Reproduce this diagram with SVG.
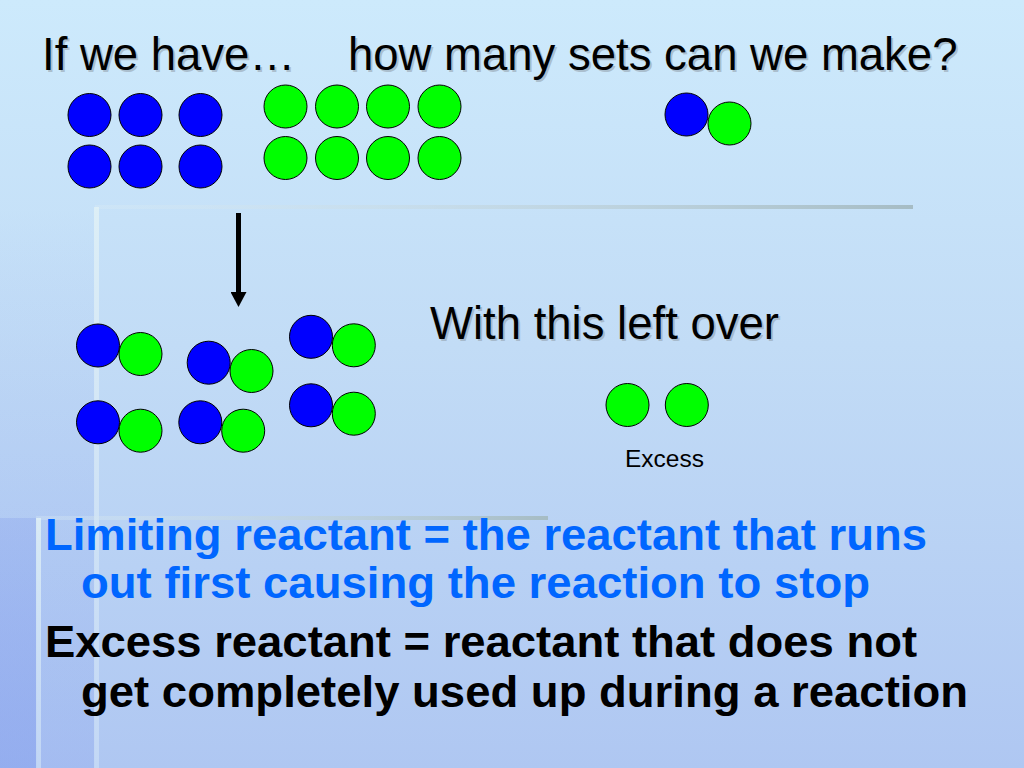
<svg xmlns="http://www.w3.org/2000/svg" width="1024" height="768" viewBox="0 0 1024 768">
<defs>
<linearGradient id="bg" x1="0" y1="0" x2="0" y2="1">
<stop offset="0" stop-color="#cdeafc"/>
<stop offset="0.45" stop-color="#c2dcf6"/>
<stop offset="1" stop-color="#afc7f2"/>
</linearGradient>
<linearGradient id="leftband" x1="0" y1="0" x2="0" y2="1">
<stop offset="0" stop-color="#8fa8ee" stop-opacity="0"/>
<stop offset="1" stop-color="#8fa8ee" stop-opacity="0.35"/>
</linearGradient>
<linearGradient id="leftedge" x1="0" y1="0" x2="0" y2="1">
<stop offset="0" stop-color="#8aa4ee" stop-opacity="0.35"/>
<stop offset="1" stop-color="#8aa4ee" stop-opacity="0.6"/>
</linearGradient>
<linearGradient id="hline" x1="0" y1="0" x2="1" y2="0">
<stop offset="0" stop-color="#dcecf4" stop-opacity="0.3"/>
<stop offset="1" stop-color="#a6bcc4"/>
</linearGradient>
<linearGradient id="vline" x1="0" y1="0" x2="0" y2="1">
<stop offset="0" stop-color="#e2f2f6"/>
<stop offset="1" stop-color="#c8dcf6"/>
</linearGradient>
<marker id="ah" viewBox="0 0 16 16" markerWidth="16" markerHeight="16" markerUnits="userSpaceOnUse" refX="0" refY="8" orient="auto">
<path d="M0,0 L15,8 L0,16 z" fill="#000"/>
</marker>
</defs>
<style>
.b{fill:#0000ff;stroke:#000;stroke-width:1}
.g{fill:#00ff00;stroke:#000;stroke-width:1}
.t{font-family:"Liberation Sans",Arial,sans-serif;font-size:45.5px;fill:#000}
.sh{font-family:"Liberation Sans",Arial,sans-serif;font-size:45.5px;fill:#8f9ca8;fill-opacity:0.55}
.bt{font-family:"Liberation Sans",Arial,sans-serif;font-size:44px;font-weight:bold}
.sm{font-family:"Liberation Sans",Arial,sans-serif;font-size:24.5px;fill:#000}
</style>
<!-- background -->
<rect x="0" y="0" width="1024" height="768" fill="url(#bg)"/>
<rect x="0" y="207" width="95" height="561" fill="url(#leftband)"/>
<rect x="0" y="518" width="37" height="250" fill="url(#leftedge)"/>
<rect x="95" y="205" width="818" height="4" fill="url(#hline)"/>
<rect x="94" y="207" width="5" height="561" fill="url(#vline)" opacity="0.8"/>
<rect x="36" y="516" width="512" height="4" fill="url(#hline)"/>
<rect x="36" y="518" width="5" height="250" fill="url(#vline)" opacity="0.8"/>

<g id="title">
<text class="sh" x="44" y="72">If we have…</text>
<text class="t" x="42" y="70">If we have…</text>
<text class="sh" x="350" y="72">how many sets can we make?</text>
<text class="t" x="348" y="70">how many sets can we make?</text>
</g>

<g id="blue-reactants">
<circle class="b" cx="89.5" cy="115" r="21.5"/>
<circle class="b" cx="140.5" cy="115" r="21.5"/>
<circle class="b" cx="200.5" cy="115" r="21.5"/>
<circle class="b" cx="89.5" cy="166.5" r="21.5"/>
<circle class="b" cx="140.5" cy="166.5" r="21.5"/>
<circle class="b" cx="200.5" cy="166.5" r="21.5"/>
</g>
<g id="green-reactants">
<circle class="g" cx="285.5" cy="106.5" r="21.5"/>
<circle class="g" cx="337" cy="106.5" r="21.5"/>
<circle class="g" cx="388" cy="106.5" r="21.5"/>
<circle class="g" cx="439.5" cy="106.5" r="21.5"/>
<circle class="g" cx="285.5" cy="158" r="21.5"/>
<circle class="g" cx="337" cy="158" r="21.5"/>
<circle class="g" cx="388" cy="158" r="21.5"/>
<circle class="g" cx="439.5" cy="158" r="21.5"/>
</g>
<g id="set-example">
<circle class="b" cx="686.5" cy="114.5" r="21.5"/>
<circle class="g" cx="729.5" cy="123.5" r="21.5"/>
</g>

<g id="connectors">
<line x1="238.5" y1="213" x2="238.5" y2="292" stroke="#000" stroke-width="5" marker-end="url(#ah)"/>
</g>

<g id="products">
<circle class="b" cx="98" cy="345.5" r="21.5"/>
<circle class="g" cx="140.5" cy="354" r="21.5"/>
<circle class="b" cx="208.7" cy="362.7" r="21.5"/>
<circle class="g" cx="251.5" cy="371" r="21.5"/>
<circle class="b" cx="311" cy="336.8" r="21.5"/>
<circle class="g" cx="353.8" cy="345.3" r="21.5"/>
<circle class="b" cx="98" cy="422.3" r="21.5"/>
<circle class="g" cx="140.5" cy="430.7" r="21.5"/>
<circle class="b" cx="200.3" cy="422.3" r="21.5"/>
<circle class="g" cx="243.2" cy="430.7" r="21.5"/>
<circle class="b" cx="311" cy="405.3" r="21.5"/>
<circle class="g" cx="353.8" cy="413.7" r="21.5"/>
</g>

<g id="leftover">
<text class="sh" x="432" y="341">With this left over</text>
<text class="t" x="430" y="339">With this left over</text>
<circle class="g" cx="627.5" cy="405" r="21.5"/>
<circle class="g" cx="686.8" cy="405" r="21.5"/>
<text class="sm" x="625" y="467">Excess</text>
</g>

<g id="definitions">
<text class="bt" x="45" y="550" fill="#0066ff" textLength="882" lengthAdjust="spacingAndGlyphs">Limiting reactant = the reactant that runs</text>
<text class="bt" x="81" y="598" fill="#0066ff" textLength="789" lengthAdjust="spacingAndGlyphs">out first causing the reaction to stop</text>
<text class="bt" x="45" y="657" fill="#000" textLength="872" lengthAdjust="spacingAndGlyphs">Excess reactant = reactant that does not</text>
<text class="bt" x="81" y="707" fill="#000" textLength="887" lengthAdjust="spacingAndGlyphs">get completely used up during a reaction</text>
</g>
</svg>
